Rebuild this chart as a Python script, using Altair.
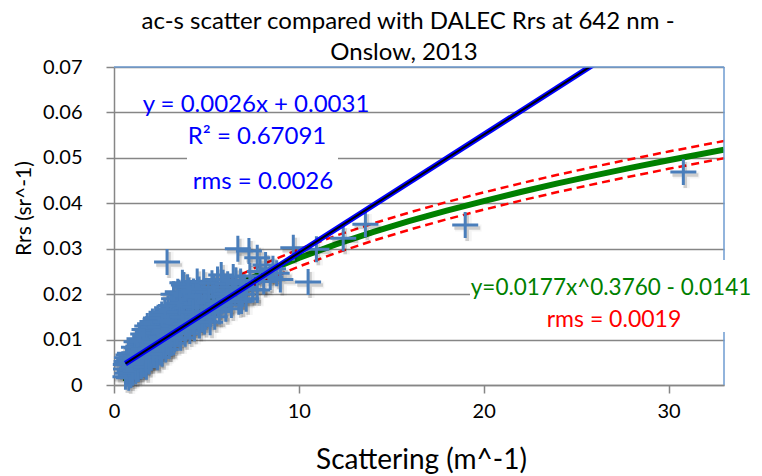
import altair as alt
import pandas as pd
import numpy as np

FONT = "Lato"

# ac-s particulate scattering (m^-1) against DALEC Rrs (sr^-1) at 642 nm
scat_a = [0.62, 0.65, 0.68, 0.72, 0.75, 0.80, 0.82, 0.85, 0.90, 0.92, 0.95, 0.98,
          0.64, 0.70, 0.78, 0.86, 0.94]
rrs_a = [0.0018, 0.0035, 0.0052, 0.0026, 0.0044, 0.0016, 0.0058, 0.0031, 0.0048, 0.0022, 0.0062, 0.0037,
         0.0045, 0.0060, 0.0066, 0.0070, 0.0052]

scat_b = [1.02, 1.05, 1.10, 1.12, 1.18, 1.20, 1.25, 1.28, 1.32, 1.35, 1.40, 1.42, 1.48,
          1.08, 1.15, 1.22, 1.30, 1.38, 1.45]
rrs_b = [0.0027, 0.0054, 0.0071, 0.0040, 0.0030, 0.0063, 0.0082, 0.0047, 0.0035, 0.0072, 0.0056, 0.0089, 0.0041,
         0.0083, 0.0060, 0.0095, 0.0062, 0.0102, 0.0075]

scat_c = [1.52, 1.55, 1.60, 1.62, 1.68, 1.70, 1.75, 1.78, 1.82, 1.85, 1.90, 1.92, 1.98,
          1.58, 1.65, 1.72, 1.80, 1.88, 1.95]
rrs_c = [0.0068, 0.0097, 0.0045, 0.0080, 0.0058, 0.0108, 0.0040, 0.0090, 0.0070, 0.0118, 0.0052, 0.0099, 0.0079,
         0.0112, 0.0122, 0.0065, 0.0130, 0.0088, 0.0135]

scat_d = [2.02, 2.05, 2.10, 2.15, 2.18, 2.22, 2.28, 2.30, 2.35, 2.40, 2.45, 2.48,
          2.08, 2.12, 2.25, 2.32, 2.38, 2.42]
rrs_d = [0.0060, 0.0112, 0.0088, 0.0127, 0.0068, 0.0101, 0.0080, 0.0134, 0.0061, 0.0115, 0.0092, 0.0072,
         0.0140, 0.0075, 0.0145, 0.0095, 0.0148, 0.0125]

scat_e = [2.52, 2.55, 2.60, 2.62, 2.68, 2.72, 2.78, 2.80, 2.85, 2.90, 2.95, 2.98,
          2.58, 2.65, 2.75, 2.82, 2.92, 2.97]
rrs_e = [0.0128, 0.0105, 0.0069, 0.0148, 0.0088, 0.0118, 0.0139, 0.0078, 0.0098, 0.0155, 0.0127, 0.0086,
         0.0155, 0.0100, 0.0160, 0.0120, 0.0168, 0.0108]

scat_f = [3.02, 3.05, 3.10, 3.15, 3.20, 3.25, 3.28, 3.32, 3.38, 3.42, 3.48,
          3.08, 3.18, 3.22, 3.35, 3.45]
rrs_f = [0.0109, 0.0142, 0.0092, 0.0165, 0.0124, 0.0190, 0.0100, 0.0151, 0.0176, 0.0115, 0.0137,
         0.0175, 0.0140, 0.0200, 0.0130, 0.0205]

scat_g = [3.52, 3.55, 3.60, 3.65, 3.70, 3.75, 3.80, 3.85, 3.90, 3.95, 4.00, 4.05, 4.10, 4.15, 4.20,
          3.58, 3.68, 3.78, 3.88, 3.98, 4.08, 4.18]
rrs_g = [0.0203, 0.0160, 0.0104, 0.0128, 0.0225, 0.0185, 0.0148, 0.0113, 0.0197, 0.0170, 0.0132, 0.0208, 0.0119, 0.0158, 0.0188,
         0.0180, 0.0150, 0.0220, 0.0135, 0.0215, 0.0175, 0.0140]

scat_h = [4.25, 4.30, 4.35, 4.42, 4.50, 4.55, 4.62, 4.70, 4.78, 4.85, 4.90, 4.95,
          4.28, 4.45, 4.60, 4.75, 4.88]
rrs_h = [0.0140, 0.0206, 0.0125, 0.0172, 0.0228, 0.0150, 0.0131, 0.0193, 0.0162, 0.0226, 0.0140, 0.0181,
         0.0160, 0.0195, 0.0210, 0.0145, 0.0205]

scat_i = [5.05, 5.10, 5.20, 5.30, 5.35, 5.45, 5.55, 5.60, 5.70, 5.80, 5.85, 5.95,
          5.15, 5.40, 5.65, 5.90]
rrs_i = [0.0158, 0.0205, 0.0138, 0.0224, 0.0172, 0.0150, 0.0195, 0.0232, 0.0162, 0.0242, 0.0183, 0.0208,
         0.0185, 0.0215, 0.0178, 0.0225]

scat_j = [6.05, 6.15, 6.25, 6.35, 6.45, 6.55, 6.70, 6.75, 6.85, 6.95,
          6.10, 6.40, 6.60, 6.90]
rrs_j = [0.0168, 0.0222, 0.0190, 0.0176, 0.0238, 0.0205, 0.0300, 0.0183, 0.0228, 0.0200,
         0.0200, 0.0215, 0.0230, 0.0185]

scat_k = [7.05, 7.15, 7.30, 7.35, 7.50, 7.75, 7.75, 7.90, 8.10, 8.20, 8.45, 8.60, 8.80, 9.00]
rrs_k = [0.0215, 0.0190, 0.0295, 0.0240, 0.0210, 0.0280, 0.0209, 0.0250, 0.0228, 0.0264, 0.0238, 0.0256, 0.0246, 0.0232]

scat_high = [2.87, 9.70, 10.50, 10.95, 12.40, 13.60, 19.00, 30.80]
rrs_high = [0.0271, 0.0302, 0.0227, 0.0299, 0.0323, 0.0354, 0.0352, 0.0469]

# Fitted relations quoted on the chart
lin_slope, lin_icpt = 0.0026, 0.0031
pow_a, pow_b, pow_c = 0.0177, 0.3760, 0.0141
pow_rms = 0.0019

# Abscissae at which the power-law fit is traced
curve_x = [0.62, 0.7, 0.8, 0.9, 1.0, 1.2, 1.4, 1.7, 2.0, 2.5, 3.0, 3.5, 4.0, 5.0, 6.0,
           7.0, 8.0, 10.0, 12.0, 14.0, 16.0, 18.0, 20.0, 22.0, 24.0, 26.0, 28.0, 30.0, 33.0]

scat = (scat_a + scat_b + scat_c + scat_d + scat_e + scat_f + scat_g + scat_h
        + scat_i + scat_j + scat_k + scat_high)
rrs = (rrs_a + rrs_b + rrs_c + rrs_d + rrs_e + rrs_f + rrs_g + rrs_h
       + rrs_i + rrs_j + rrs_k + rrs_high)
pts = pd.DataFrame({"x": scat, "y": rrs})

cx = np.array(curve_x)
cy = pow_a * cx ** pow_b - pow_c
curve = pd.DataFrame({"x": cx, "y": cy, "up": cy + pow_rms, "lo": cy - pow_rms})

lx = np.array([min(scat), max(scat)])
lin = pd.DataFrame({"x": lx, "y": lin_slope * lx + lin_icpt})

W, H = 610, 318
xs = alt.Scale(domain=[0, 33], nice=False, zero=False)
ys = alt.Scale(domain=[0, 0.07], nice=False)

GRAY = "#868686"
x_axis = alt.Axis(
    values=[0, 10, 20, 30], grid=False, title="Scattering (m^-1)",
    titleFont=FONT, titleFontSize=28, titleFontWeight="normal", titleColor="black",
    titleX=307, titleY=75, titleBaseline="middle", titleAlign="center",
    labelFont=FONT, labelFontSize=20, labelColor="black", labelPadding=8,
    tickSize=8, tickColor=GRAY, tickWidth=1.5, domainColor=GRAY, domainWidth=1.5,
    labelFlush=False, labelOverlap=False,
)
y_axis = alt.Axis(
    values=[0, 0.01, 0.02, 0.03, 0.04, 0.05, 0.06, 0.07],
    labelExpr="datum.value == 0 ? '0' : format(datum.value, '.2f')",
    grid=True, gridColor=GRAY, gridWidth=1.5,
    title="Rrs (sr^-1)", titleFont=FONT, titleFontSize=21, titleFontWeight="normal",
    titleColor="black", titleX=-90, titleY=141, titleAngle=-90,
    titleBaseline="middle", titleAlign="center",
    labelFont=FONT, labelFontSize=20, labelColor="black", labelPadding=24,
    tickSize=8, tickColor=GRAY, tickWidth=1.5, domainColor=GRAY, domainWidth=1.5,
    labelFlush=False, labelOverlap=False,
)

X = alt.X("x:Q", scale=xs, axis=x_axis)
Y = alt.Y("y:Q", scale=ys, axis=y_axis)

cross = "M-1,0H1M0,-1V1"

band_up = alt.Chart(curve).mark_line(color="#FF0000", strokeWidth=2.5, strokeDash=[8, 5], clip=True).encode(
    x=X, y=alt.Y("up:Q", scale=ys, axis=y_axis))
band_lo = alt.Chart(curve).mark_line(color="#FF0000", strokeWidth=2.5, strokeDash=[8, 5], clip=True).encode(
    x=X, y=alt.Y("lo:Q", scale=ys, axis=y_axis))
power = alt.Chart(curve).mark_line(color="#008000", strokeWidth=6, clip=True).encode(x=X, y=Y)

shadow_soft = alt.Chart(pts).mark_point(
    shape=cross, size=700, filled=False, stroke="black", strokeWidth=7,
    strokeOpacity=0.06, xOffset=3, yOffset=3).encode(x=X, y=Y)
shadow = alt.Chart(pts).mark_point(
    shape=cross, size=676, filled=False, stroke="black", strokeWidth=3.5,
    strokeOpacity=0.22, xOffset=2, yOffset=3).encode(x=X, y=Y)
markers = alt.Chart(pts).mark_point(
    shape=cross, size=676, filled=False, stroke="#4A7EBB", strokeWidth=3,
    opacity=1).encode(x=X, y=Y)

lin_blue = alt.Chart(lin).mark_line(color="#0000FF", strokeWidth=5.5, clip=True).encode(x=X, y=Y)
lin_black = alt.Chart(lin).mark_line(color="black", strokeWidth=2, clip=True).encode(x=X, y=Y)

one = pd.DataFrame({"k": [0]})
BORDER = "#6E9BD1"
top_edge = alt.Chart(one).mark_rule(color=BORDER, strokeWidth=1.5).encode(
    x=alt.value(0), x2=alt.value(W), y=alt.value(0))
right_edge = alt.Chart(one).mark_rule(color=BORDER, strokeWidth=1.5).encode(
    x=alt.value(W), y=alt.value(0), y2=alt.value(H))

box_lin = alt.Chart(one).mark_rect(color="white").encode(
    x=alt.value(73), x2=alt.value(224), y=alt.value(83), y2=alt.value(131))
box_pow = alt.Chart(one).mark_rect(color="white").encode(
    x=alt.value(356), x2=alt.value(648), y=alt.value(193), y2=alt.value(265))


def label(text, px, py, color, size=24):
    return alt.Chart(one).mark_text(
        font=FONT, fontSize=size, color=color, align="center", baseline="middle"
    ).encode(x=alt.value(px), y=alt.value(py), text=alt.value(text))


texts = [
    label("ac-s scatter compared with DALEC Rrs at 642 nm -", 294, -45, "black", 24),
    label("Onslow, 2013", 290, -14, "black", 24),
    label("y = 0.0026x + 0.0031", 142, 38, "#0000FF"),
    label("R\u00b2 = 0.67091", 143, 70, "#0000FF"),
    label("rms = 0.0026", 149, 115, "#0000FF"),
    label("y=0.0177x^0.3760 - 0.0141", 497, 221, "#008000", 22.5),
    label("rms = 0.0019", 500, 253, "#FF0000", 23),
]

chart = alt.layer(
    band_up, band_lo, power, shadow_soft, shadow, markers, lin_blue, lin_black,
    top_edge, right_edge, box_lin, box_pow, *texts
).properties(
    width=W, height=H,
    padding={"left": 114, "top": 67, "right": 38, "bottom": 91},
    autosize=alt.AutoSizeParams(type="none"),
    background="white",
).configure_view(stroke=None)

chart.save("out.html", embed_options={"renderer": "svg", "actions": False})
